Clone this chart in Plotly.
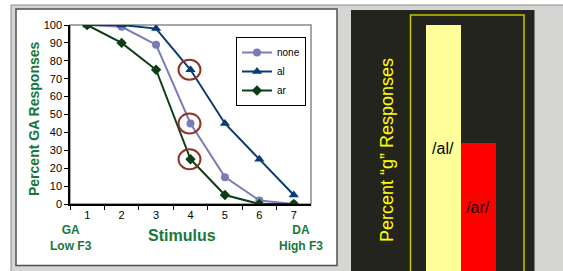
import plotly.graph_objects as go

# ---- data ----
stimulus = ["1", "2", "3", "4", "5", "6", "7"]
none_vals = [100, 99, 89, 45, 15, 2, 0]
al_vals = [100, 100, 98, 75, 45, 25, 5]
ar_vals = [100, 90, 75, 25, 5, 0, 0]
y_ticks = [0, 10, 20, 30, 40, 50, 60, 70, 80, 90, 100]
highlight_stim = "4"
highlight_vals = [75, 45, 25]

bar_labels = ["/al/", "/ar/"]
bar_pos = [1, 2]
bar_vals = [96, 50]

W, H = 563, 271
FONT = "Arial, Liberation Sans, sans-serif"
GREEN = "#17773b"


def px(x):
    return x / W


def py(y):
    return 1 - y / H


fig = go.Figure()

fig.add_trace(go.Scatter(x=stimulus, y=none_vals, name="none", mode="lines+markers",
                         line=dict(color="#7b7bb8", width=2),
                         marker=dict(symbol="circle", size=8, color="#7b7bb8"),
                         xaxis="x", yaxis="y"))
fig.add_trace(go.Scatter(x=stimulus, y=al_vals, name="al", mode="lines+markers",
                         line=dict(color="#0b3b74", width=2),
                         marker=dict(symbol="triangle-up", size=9, color="#0b3b74"),
                         xaxis="x", yaxis="y"))
fig.add_trace(go.Scatter(x=stimulus, y=ar_vals, name="ar", mode="lines+markers",
                         line=dict(color="#0d3d14", width=2),
                         marker=dict(symbol="diamond", size=8, color="#0d3d14"),
                         xaxis="x", yaxis="y"))

fig.add_trace(go.Bar(x=bar_pos, y=bar_vals, width=1, text=bar_labels,
                     textposition="inside", insidetextanchor="middle", textangle=0,
                     textfont=dict(family=FONT, size=16, color="black"),
                     marker=dict(color=["#ffff99", "#ff0000"], line=dict(width=0)),
                     showlegend=False, xaxis="x2", yaxis="y2", hoverinfo="skip"))

shapes = [
    # textured gray background approximation
    dict(type="rect", xref="paper", yref="paper", x0=px(11), x1=px(566), y0=py(5), y1=py(275),
         fillcolor="#d5d5d3", line=dict(color="#8a8a8a", width=1), layer="below"),
    # white left panel
    dict(type="rect", xref="paper", yref="paper", x0=px(16), x1=px(337), y0=py(9), y1=py(265.5),
         fillcolor="white", line=dict(color="#505050", width=1.5), layer="below"),
    # dark right panel
    dict(type="rect", xref="paper", yref="paper", x0=px(351), x1=px(534.5), y0=py(10), y1=py(275),
         fillcolor="#24241f", line=dict(width=0), layer="below"),
    # yellow frame in right panel
    dict(type="rect", xref="paper", yref="paper", x0=px(410.5), x1=px(524), y0=py(15), y1=py(280),
         fillcolor="rgba(0,0,0,0)", line=dict(color="#c4c400", width=1.5), layer="below"),
    # gray top/right border of plot area
    dict(type="rect", xref="paper", yref="paper", x0=px(70), x1=px(311), y0=py(25), y1=py(204),
         fillcolor="rgba(0,0,0,0)", line=dict(color="#8a8a8a", width=1.5), layer="below"),
]

for v in highlight_vals:
    shapes.append(dict(type="circle", xref="x", yref="y", xsizemode="pixel", ysizemode="pixel",
                       xanchor=stimulus.index(highlight_stim), yanchor=v,
                       x0=-12, x1=10, y0=-10, y1=10,
                       line=dict(color="#8e3524", width=2)))


def ann(text, x, y, size, color, angle=0):
    return dict(text=text, xref="paper", yref="paper", x=px(x), y=py(y),
                xanchor="center", yanchor="middle", textangle=angle, showarrow=False,
                align="center", font=dict(family=FONT, size=size, color=color))


annotations = [
    ann("<b>Percent GA Responses</b>", 34, 119, 14, GREEN, -90),
    ann("<b>Stimulus</b>", 182, 235, 16, GREEN),
    ann("<b>GA<br>Low F3</b>", 71, 238, 12, GREEN),
    ann("<b>DA<br>High F3</b>", 301, 238, 12, GREEN),
    ann("Percent “g” Responses", 387, 150, 18, "#ffff00", -90),
]

fig.update_layout(
    width=W, height=H,
    margin=dict(l=0, r=0, t=0, b=0, pad=0, autoexpand=False),
    paper_bgcolor="white",
    plot_bgcolor="rgba(0,0,0,0)",
    font=dict(family=FONT, size=11, color="black"),
    shapes=shapes,
    annotations=annotations,
    showlegend=True,
    legend=dict(x=px(236), y=py(37), xanchor="left", yanchor="top",
                bgcolor="white", bordercolor="black", borderwidth=1,
                font=dict(family=FONT, size=10, color="black"),
                itemwidth=30, tracegroupgap=0),
    xaxis=dict(domain=[px(70), px(311)], type="category", tickson="boundaries",
               showline=True, linecolor="black", linewidth=1.5,
               ticks="outside", ticklen=4, tickcolor="black", tickwidth=1,
               showgrid=False, zeroline=False, range=[-0.5, 6.5], automargin=False,
               tickfont=dict(family=FONT, size=11, color="black"), anchor="y"),
    yaxis=dict(domain=[py(204), py(25)], range=[0, 100], tickvals=y_ticks,
               showline=True, linecolor="black", linewidth=1.5,
               ticks="outside", ticklen=4, tickcolor="black", tickwidth=1,
               showgrid=False, zeroline=False, automargin=False,
               tickfont=dict(family=FONT, size=11, color="black"), anchor="x"),
    xaxis2=dict(domain=[px(410.5), px(524)], range=[0.0714, 3.3286], visible=False,
                anchor="y2", automargin=False),
    yaxis2=dict(domain=[0, py(15)], range=[0, 100], visible=False, anchor="x2",
                automargin=False),
    bargap=0,
)

fig.write_html("out.html", config={"displayModeBar": False},
               post_script="document.body.style.margin='0';document.body.style.overflow='hidden';")
